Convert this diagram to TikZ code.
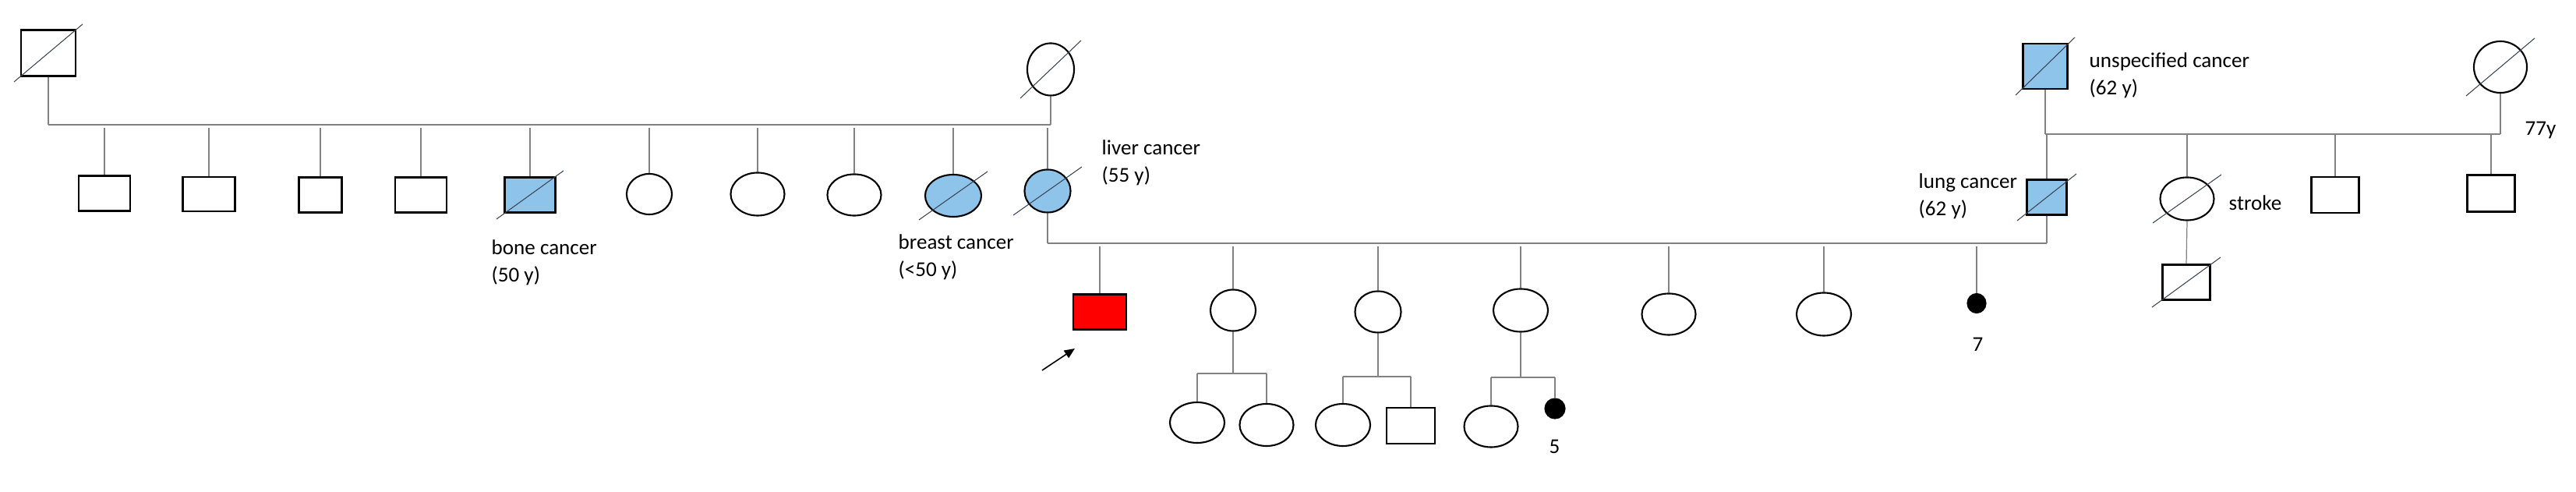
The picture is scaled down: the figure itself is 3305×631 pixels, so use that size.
\documentclass[tikz,border=0pt]{standalone}
\usepackage{fontspec}
\setmainfont{Carlito}
\usetikzlibrary{shapes.geometric,calc,arrows.meta}
\definecolor{aff}{RGB}{142,195,234}
\definecolor{conn}{RGB}{130,130,130}
\definecolor{diagc}{RGB}{60,68,82}
\tikzset{
  ind/.style={draw=black, line width=0.6pt, inner sep=0pt, fill=white},
  male/.style 2 args={ind, rectangle, minimum width=#1cm, minimum height=#2cm},
  female/.style 2 args={ind, ellipse, minimum width=#1cm, minimum height=#2cm},
  affected/.style={fill=aff},
  vline/.style={draw=conn, line width=0.35pt},
  hline/.style={draw=conn, line width=0.6pt},
  hthin/.style={draw=conn, line width=0.45pt},
  diag/.style={draw=diagc, line width=0.3pt},
  lbl/.style={anchor=north west, inner sep=0pt, align=left, font=\fontsize{7.7pt}{9.9pt}\selectfont},
}
\newcommand\deceased[3]{\draw[diag] ($(#1.center)+(-#2,#3)$) -- ($(#1.center)+(#2,-#3)$);}
\begin{document}
\begin{tikzpicture}[x=0.01cm,y=-0.01cm]
\useasboundingbox (0,0) rectangle (3305,631);
% ---------- coordinates of sibship lines
\coordinate (L1) at (0,160);
\coordinate (L2) at (0,312);
\coordinate (L3) at (0,172);
\coordinate (B1) at (0,479);
\coordinate (B2) at (0,483);
\coordinate (B3) at (0,484);
% ---------- generation I (left)
\node[male={0.70}{0.59}] (gf) at (62,68) {};
\node[female={0.60}{0.67}] (gm) at (1348,89) {};
% ---------- generation II (left)
\node[male={0.66}{0.45}] (c1) at (134,248) {};
\node[male={0.67}{0.44}] (c2) at (268,249) {};
\node[male={0.55}{0.45}] (c3) at (411,250) {};
\node[male={0.66}{0.45}] (c4) at (540,250) {};
\node[male={0.65}{0.45}, affected] (c5) at (680,250) {};
\node[female={0.58}{0.52}] (c6) at (833,249) {};
\node[female={0.69}{0.55}] (c7) at (972,249) {};
\node[female={0.69}{0.53}] (c8) at (1096,250) {};
\node[female={0.72}{0.54}, affected] (c9) at (1223,251) {};
\node[female={0.59}{0.55}, affected] (c10) at (1344,245) {};
% ---------- generation I (right)
\node[male={0.57}{0.58}, affected] (uf) at (2624,85) {};
\node[female={0.68}{0.66}] (um) at (3208,86) {};
% ---------- generation II (right)
\node[male={0.51}{0.45}, affected] (lung) at (2626,253) {};
\node[female={0.69}{0.55}] (stroke) at (2806,255) {};
\node[male={0.61}{0.46}] (r3) at (2996,250) {};
\node[male={0.61}{0.47}] (r4) at (3196,248) {};
\node[male={0.61}{0.45}] (gs) at (2805,362) {};
% ---------- generation III
\node[male={0.68}{0.45}, fill=red] (p) at (1411,400) {};
\node[female={0.58}{0.53}] (d2) at (1582,398) {};
\node[female={0.59}{0.53}] (d3) at (1768,400) {};
\node[female={0.70}{0.55}] (d4) at (1951,398) {};
\node[female={0.69}{0.53}] (d5) at (2141,403) {};
\node[female={0.70}{0.55}] (d6) at (2340,403) {};
\node[female={0.23}{0.24}, fill=black] (d7) at (2536,389) {};
% ---------- generation IV
\node[female={0.70}{0.52}] (e1) at (1536,542) {};
\node[female={0.69}{0.54}] (e2) at (1625,545) {};
\node[female={0.70}{0.54}] (e3) at (1723,545) {};
\node[male={0.62}{0.46}] (e4) at (1810,546) {};
\node[female={0.69}{0.53}] (e5) at (1913,547) {};
\node[female={0.25}{0.25}, fill=black] (e6) at (1995,524) {};
% ---------- connectors, generation I left
\draw[vline] (gf.south) -- (gf.south |- L1);
\draw[hline] (gf.south |- L1) -- (gm.south |- L1);
\draw[vline] (gm.south) -- (gm.south |- L1);
\foreach \n in {c1,c2,c3,c4,c5,c6,c7,c8,c9,c10}
  \draw[vline, shorten <=1.1pt] (\n.north |- L1) -- (\n.north);
% ---------- connectors, generation I right
\draw[vline] (uf.south) -- (uf.south |- L3);
\draw[hline] (uf.south |- L3) -- (um.south |- L3);
\draw[vline] (um.south) -- (um.south |- L3);
\foreach \n in {lung,stroke,r3,r4}
  \draw[vline] (\n.north |- L3) -- (\n.north);
\draw[vline] (stroke.south) -- (gs.north);
% ---------- connectors, generation II couple
\draw[vline] (c10.south) -- (c10.south |- L2);
\draw[hthin] (c10.south |- L2) -- (lung.south |- L2);
\draw[vline] (lung.south) -- (lung.south |- L2);
\foreach \n in {p,d2,d3,d4,d5,d6,d7}
  \draw[vline, shorten <=1.1pt] (\n.north |- L2) -- (\n.north);
% ---------- connectors, generation III
\draw[vline] (d2.south) -- (d2.south |- B1);
\draw[hthin] (e1.north |- B1) -- (e2.north |- B1);
\draw[vline] (e1.north |- B1) -- (e1.north);
\draw[vline] (e2.north |- B1) -- (e2.north);
\draw[vline] (d3.south) -- (d3.south |- B2);
\draw[hline] (e3.north |- B2) -- (e4.north |- B2);
\draw[vline] (e3.north |- B2) -- (e3.north);
\draw[vline] (e4.north |- B2) -- (e4.north);
\draw[vline] (d4.south) -- (d4.south |- B3);
\draw[hthin] (e5.north |- B3) -- (e6.north |- B3);
\draw[vline] (e5.north |- B3) -- (e5.north);
\draw[vline] (e6.north |- B3) -- (e6.north);
% ---------- deceased marks
\deceased{gf}{44}{37}
\deceased{gm}{39}{37}
\deceased{c5}{43}{31}
\deceased{c9}{44}{31}
\deceased{c10}{44}{31}
\deceased{uf}{38}{37}
\deceased{um}{44}{37}
\deceased{lung}{38}{30}
\deceased{stroke}{44}{31}
\deceased{gs}{44}{32}
% ---------- proband arrow
\coordinate (arrS) at (1337,475);
\coordinate (arrE) at (1379,447);
\draw[line width=0.45pt, -{Triangle[length=3.8pt, width=3.2pt]}] (arrS) -- (arrE);
% ---------- labels
\node[lbl] (t1) at (630,307) {bone cancer\\(50 y)};
\node[lbl] (t2) at (1152,300) {breast cancer\\(<50 y)};
\node[lbl] (t3) at (1413,179) {liver cancer\\(55 y)};
\node[lbl] (t4) at (2461,222) {lung cancer\\(62 y)};
\node[lbl] (t5) at (2680,67) {unspecified cancer\\(62 y)};
\node[lbl] (t6) at (2859,250) {stroke};
\node[lbl] (t7) at (3239,155) {77y};
\node[lbl] (t8) at (2530,432) {7};
\node[lbl] (t9) at (1987,563) {5};
\end{tikzpicture}
\end{document}
